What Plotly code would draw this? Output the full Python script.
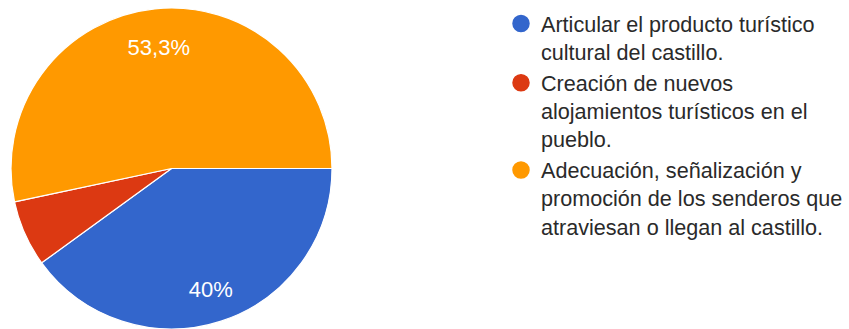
import plotly.graph_objects as go

# Survey answers (number of responses per option)
labels = [
    "Articular el producto turístico<br>cultural del castillo.",
    "Creación de nuevos<br>alojamientos turísticos en el<br>pueblo.",
    "Adecuación, señalización y<br>promoción de los senderos que<br>atraviesan o llegan al castillo.",
]
responses = [6, 1, 8]
colors = ["#3366CC", "#DC3912", "#FF9900"]
# which slices carry a percentage label (small slices are left unlabelled)
show_label = [True, False, True]
# radial placement of each label, as the inner radius of the ring it sits in
label_ring = [0.58, 0.52, 0.52]

W, H = 849, 329
pie_domain = dict(x=[11 / W, 332 / W], y=[0, (H - 8) / H])

fig = go.Figure()

# filled slices
fig.add_trace(go.Pie(
    labels=labels,
    values=responses,
    sort=False,
    direction="clockwise",
    rotation=90,
    marker=dict(colors=colors, line=dict(color="white", width=1.2)),
    textinfo="none",
    hoverinfo="label+percent",
    showlegend=False,
    domain=pie_domain,
))

# percentage labels, each drawn in an invisible ring so it sits toward the rim
for i, (show, ring) in enumerate(zip(show_label, label_ring)):
    if not show:
        continue
    tmpl = ["%{percent:.3~p}" if j == i else "" for j in range(len(responses))]
    fig.add_trace(go.Pie(
        labels=labels,
        values=responses,
        sort=False,
        direction="clockwise",
        rotation=90,
        hole=ring,
        marker=dict(colors=["rgba(0,0,0,0)"] * len(responses),
                    line=dict(width=0)),
        texttemplate=tmpl,
        textposition="inside",
        insidetextorientation="horizontal",
        textfont=dict(family="Arial", size=22, color="white"),
        hoverinfo="skip",
        showlegend=False,
        domain=pie_domain,
    ))

# legend entries with round markers
for name, col in zip(labels, colors):
    fig.add_trace(go.Scatter(
        x=[None], y=[None], mode="markers", name=name,
        marker=dict(symbol="circle", size=16, color=col,
                    line=dict(color=col, width=1.5)),
        hoverinfo="skip",
    ))

fig.update_layout(
    width=W,
    height=H,
    margin=dict(l=0, r=0, t=0, b=0),
    paper_bgcolor="white",
    plot_bgcolor="white",
    separators=",.",
    xaxis=dict(visible=False),
    yaxis=dict(visible=False),
    legend=dict(
        x=501 / W, y=1 - 3 / H, xanchor="left", yanchor="top",
        valign="top",
        font=dict(family="Arial", size=21.6, color="#2a2a2a"),
        itemsizing="trace",
        tracegroupgap=0,
        bgcolor="rgba(0,0,0,0)",
    ),
)

fig.write_html("out.html")
